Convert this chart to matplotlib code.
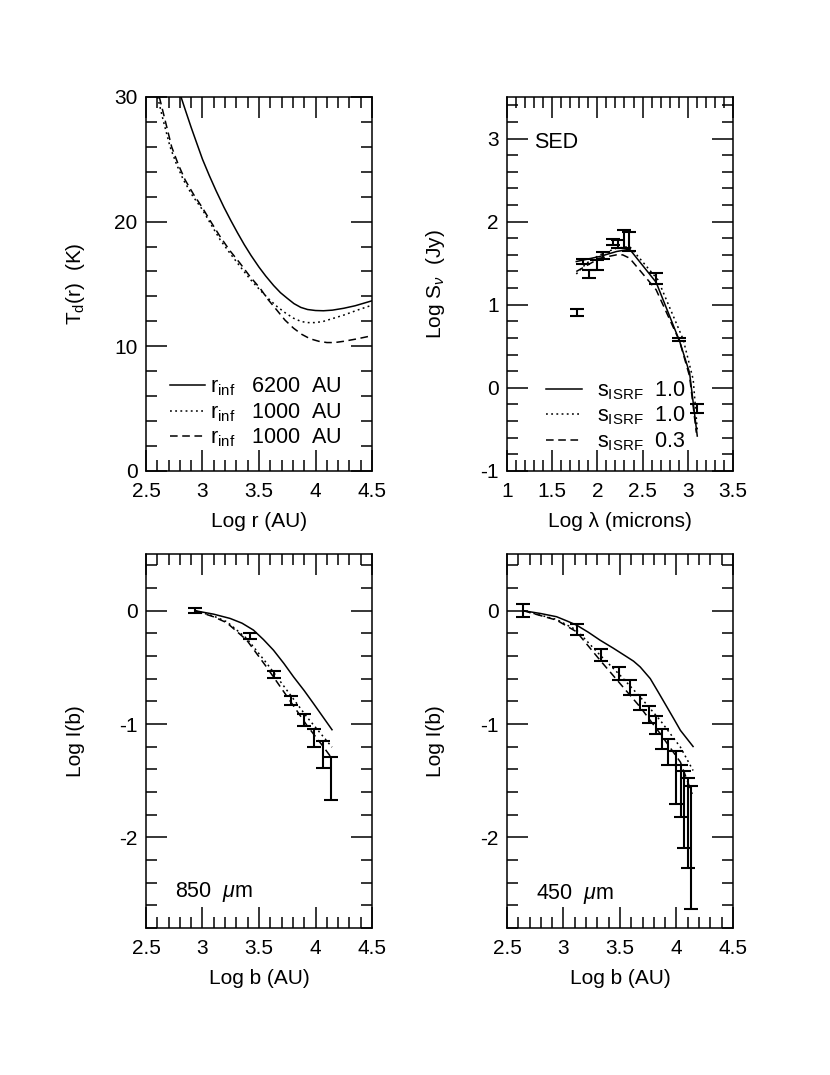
import matplotlib
matplotlib.use('Agg')
import matplotlib.pyplot as plt
from matplotlib.ticker import MultipleLocator, FuncFormatter

plt.rcParams['font.family'] = ['Liberation Sans', 'DejaVu Sans']
plt.rcParams['mathtext.fontset'] = 'custom'
plt.rcParams['mathtext.rm'] = 'Liberation Sans'
plt.rcParams['mathtext.it'] = 'Liberation Sans:italic'
plt.rcParams['mathtext.bf'] = 'Liberation Sans:bold'
plt.rcParams['axes.unicode_minus'] = False

#%% dust temperature profiles
r_6200 = [2.81, 2.85, 2.90, 2.95, 3.0, 3.06, 3.12, 3.19, 3.25, 3.31, 3.37, 3.43, 3.5,
          3.56, 3.63, 3.69, 3.75, 3.81, 3.87, 3.93, 4.0, 4.07, 4.15, 4.25, 4.35, 4.5]
T_6200 = [30.0, 28.9, 27.55, 26.27, 25.0, 23.7, 22.48, 21.15, 20.1, 19.1, 18.15, 17.28, 16.35,
          15.63, 14.87, 14.3, 13.85, 13.42, 13.12, 12.95, 12.87, 12.85, 12.9, 13.05, 13.25, 13.65]
r_1000a = [2.603, 2.65, 2.713, 2.77, 2.831, 2.91, 3.0, 3.08, 3.156, 3.24, 3.333, 3.42, 3.51,
           3.58, 3.658, 3.73, 3.806, 3.87, 3.924, 4.0, 4.07, 4.16, 4.249, 4.37, 4.5]
T_1000a = [30.0, 28.2, 26.0, 24.6, 23.35, 22.1, 20.95, 19.7, 18.55, 17.5, 16.4, 15.4, 14.5,
           13.85, 13.2, 12.7, 12.25, 12.0, 11.9, 11.9, 12.0, 12.25, 12.5, 12.9, 13.3]
r_1000b = [2.618, 2.67, 2.727, 2.785, 2.846, 2.92, 3.0, 3.08, 3.156, 3.24, 3.333, 3.42, 3.51,
           3.58, 3.658, 3.73, 3.806, 3.88, 3.953, 4.03, 4.101, 4.17, 4.249, 4.37, 4.5]
T_1000b = [30.0, 28.1, 26.0, 24.6, 23.35, 22.2, 21.1, 19.9, 18.8, 17.7, 16.65, 15.6, 14.65,
           13.75, 12.9, 12.1, 11.45, 10.95, 10.6, 10.4, 10.3, 10.3, 10.4, 10.6, 10.85]

#%% SED
sed_lam = [1.77, 1.84, 1.91, 2.0, 2.06, 2.17, 2.23, 2.29, 2.35, 2.65, 2.90, 3.10]
sed_flux = [0.91, 1.52, 1.37, 1.48, 1.59, 1.755, 1.73, 1.79, 1.76, 1.315, 0.585, -0.245]
sed_err = [0.04, 0.03, 0.05, 0.06, 0.04, 0.035, 0.05, 0.11, 0.11, 0.065, 0.02, 0.055]
mod_lam_a = [1.767, 2.025, 2.21, 2.357, 2.65, 2.91, 3.02, 3.105]
mod_flux_a = [1.52, 1.58, 1.64, 1.668, 1.27, 0.56, 0.18, -0.58]
mod_lam_b = [1.767, 1.88, 2.025, 2.21, 2.357, 2.67, 2.95, 3.06, 3.105]
mod_flux_b = [1.37, 1.50, 1.60, 1.68, 1.70, 1.30, 0.58, 0.10, -0.50]
mod_lam_c = [1.767, 2.025, 2.21, 2.28, 2.357, 2.65, 2.91, 3.02, 3.095]
mod_flux_c = [1.40, 1.56, 1.60, 1.60, 1.56, 1.18, 0.56, 0.14, -0.54]

#%% 850 micron profile
b850 = [2.934, 3.42, 3.63, 3.78, 3.895, 3.99, 4.07, 4.135]
I850 = [0.0, -0.225, -0.563, -0.794, -0.965, -1.124, -1.27, -1.48]
e850 = [0.024, 0.025, 0.03, 0.041, 0.056, 0.08, 0.12, 0.19]
m850_b_a = [2.934, 3.097, 3.244, 3.35, 3.451, 3.54, 3.628, 3.72, 3.806, 3.90, 3.983, 4.146]
m850_I_a = [0.0, -0.03, -0.068, -0.11, -0.171, -0.255, -0.348, -0.465, -0.584, -0.705, -0.82, -1.05]
m850_b_b = [2.934, 3.097, 3.215, 3.392, 3.57, 3.747, 3.924, 4.072, 4.146]
m850_I_b = [0.0, -0.047, -0.097, -0.245, -0.466, -0.702, -0.938, -1.115, -1.204]
m850_b_c = [2.934, 3.097, 3.215, 3.392, 3.57, 3.747, 3.924, 4.072, 4.137]
m850_I_c = [0.0, -0.053, -0.106, -0.26, -0.501, -0.755, -1.012, -1.204, -1.292]

#%% 450 micron profile
b450 = [2.645, 3.116, 3.333, 3.49, 3.593, 3.68, 3.753, 3.816, 3.872, 3.926, 3.997, 4.038, 4.068, 4.106, 4.130]
I450 = [0.0, -0.165, -0.392, -0.557, -0.68, -0.81, -0.915, -1.007, -1.133, -1.25, -1.47, -1.587, -1.75, -1.874, -2.09]
e450 = [0.056, 0.05, 0.056, 0.056, 0.066, 0.07, 0.075, 0.078, 0.09, 0.115, 0.233, 0.23, 0.34, 0.40, 0.54]
m450_b_a = [2.645, 2.8, 2.939, 3.03, 3.116, 3.22, 3.324, 3.44, 3.561, 3.62, 3.679, 3.768, 3.84, 3.916, 3.98, 4.035, 4.147]
m450_I_a = [0.0, -0.025, -0.053, -0.09, -0.127, -0.19, -0.26, -0.33, -0.407, -0.445, -0.496, -0.599, -0.72, -0.85, -0.96, -1.056, -1.198]
m450_b_b = [2.645, 2.939, 3.116, 3.324, 3.501, 3.679, 3.857, 4.035, 4.147]
m450_I_b = [0.0, -0.077, -0.171, -0.392, -0.569, -0.761, -0.968, -1.204, -1.41]
m450_b_c = [2.645, 2.939, 3.116, 3.324, 3.501, 3.679, 3.857, 4.035, 4.139]
m450_I_c = [0.0, -0.083, -0.186, -0.437, -0.643, -0.85, -1.086, -1.336, -1.617]

DOT = (0, (1.2, 2.2))
DASH = (0, (5, 3))
LW = 1.1
FS = 15
LFS = 15.5

def style_axes(ax, xmaj, xmin, ymaj, ymin):
    ax.xaxis.set_major_locator(MultipleLocator(xmaj))
    ax.xaxis.set_minor_locator(MultipleLocator(xmin))
    ax.yaxis.set_major_locator(MultipleLocator(ymaj))
    ax.yaxis.set_minor_locator(MultipleLocator(ymin))
    fmt = FuncFormatter(lambda v, p: '%g' % round(v, 3))
    ax.xaxis.set_major_formatter(fmt)
    ax.yaxis.set_major_formatter(fmt)
    ax.tick_params(which='both', direction='in', top=True, right=True, width=1.1,
                   labelsize=FS)
    ax.tick_params(which='major', length=15)
    ax.tick_params(which='minor', length=8)
    ax.tick_params(axis='x', pad=8)
    ax.tick_params(axis='y', pad=6)
    for s in ax.spines.values():
        s.set_linewidth(1.1)

def place_labels(ax, xl, yl):
    ax.set_xlabel(xl, fontsize=FS, va='center')
    ax.set_ylabel(yl, fontsize=FS, va='center')
    ax.xaxis.set_label_coords(0.5, -0.134)
    ax.yaxis.set_label_coords(-0.314, 0.5)

fig = plt.figure(figsize=(8.3, 10.75), dpi=100)
W, H = 0.2723, 0.3479
ax1 = fig.add_axes([0.1759, 0.5619, W, H])
ax2 = fig.add_axes([0.6108, 0.5619, W, H])
ax3 = fig.add_axes([0.1759, 0.1367, W, H])
ax4 = fig.add_axes([0.6108, 0.1367, W, H])

eb = dict(fmt='none', ecolor='k', elinewidth=1.5, capthick=1.5)

# temperature panel
ax1.plot(r_6200, T_6200, color='k', lw=LW, label=r'r$_{\rm inf}$   6200  AU')
ax1.plot(r_1000a, T_1000a, color='k', lw=LW, ls=DOT, label=r'r$_{\rm inf}$   1000  AU')
ax1.plot(r_1000b, T_1000b, color='k', lw=LW, ls=DASH, label=r'r$_{\rm inf}$   1000  AU')
ax1.set_xlim(2.5, 4.5)
ax1.set_ylim(0, 30)
style_axes(ax1, 0.5, 0.1, 10, 2)
place_labels(ax1, 'Log r (AU)', r'T$_{\rm d}$(r)  (K)')
ax1.legend(loc='lower left', bbox_to_anchor=(0.07, 0.035), frameon=False, fontsize=LFS,
           handlelength=1.6, handletextpad=0.25, labelspacing=0.14, borderaxespad=0)

# SED panel
ax2.errorbar(sed_lam, sed_flux, yerr=sed_err, capsize=4.7, **eb)
ax2.plot(mod_lam_a, mod_flux_a, color='k', lw=LW, label=r's$_{\rm ISRF}$  1.0')
ax2.plot(mod_lam_b, mod_flux_b, color='k', lw=LW, ls=DOT, label=r's$_{\rm ISRF}$  1.0')
ax2.plot(mod_lam_c, mod_flux_c, color='k', lw=LW, ls=DASH, label=r's$_{\rm ISRF}$  0.3')
ax2.set_xlim(1, 3.5)
ax2.set_ylim(-1, 3.5)
style_axes(ax2, 0.5, 0.1, 1, 0.2)
place_labels(ax2, 'Log λ (microns)', r'Log S$_\nu$  (Jy)')
ax2.text(0.12, 0.878, 'SED', transform=ax2.transAxes, fontsize=LFS, va='center', ha='left')
ax2.legend(loc='lower left', bbox_to_anchor=(0.135, 0.025), frameon=False, fontsize=LFS,
           handlelength=1.65, handletextpad=0.7, labelspacing=0.14, borderaxespad=0)

# 850 micron panel
ax3.errorbar(b850, I850, yerr=e850, capsize=5, **eb)
ax3.plot(m850_b_a, m850_I_a, color='k', lw=LW)
ax3.plot(m850_b_b, m850_I_b, color='k', lw=LW, ls=DOT)
ax3.plot(m850_b_c, m850_I_c, color='k', lw=LW, ls=DASH)
ax3.set_xlim(2.5, 4.5)
ax3.set_ylim(-2.8, 0.5)
style_axes(ax3, 0.5, 0.1, 1, 0.2)
place_labels(ax3, 'Log b (AU)', 'Log I(b)')
ax3.text(0.13, 0.097, r'850  $\mu$m', transform=ax3.transAxes, fontsize=LFS, va='center')

# 450 micron panel
ax4.errorbar(b450, I450, yerr=e450, capsize=5, **eb)
ax4.plot(m450_b_a, m450_I_a, color='k', lw=LW)
ax4.plot(m450_b_b, m450_I_b, color='k', lw=LW, ls=DOT)
ax4.plot(m450_b_c, m450_I_c, color='k', lw=LW, ls=DASH)
ax4.set_xlim(2.5, 4.5)
ax4.set_ylim(-2.8, 0.5)
style_axes(ax4, 0.5, 0.1, 1, 0.2)
place_labels(ax4, 'Log b (AU)', 'Log I(b)')
ax4.text(0.13, 0.092, r'450  $\mu$m', transform=ax4.transAxes, fontsize=LFS, va='center')

fig.savefig('out.png', dpi=100)
